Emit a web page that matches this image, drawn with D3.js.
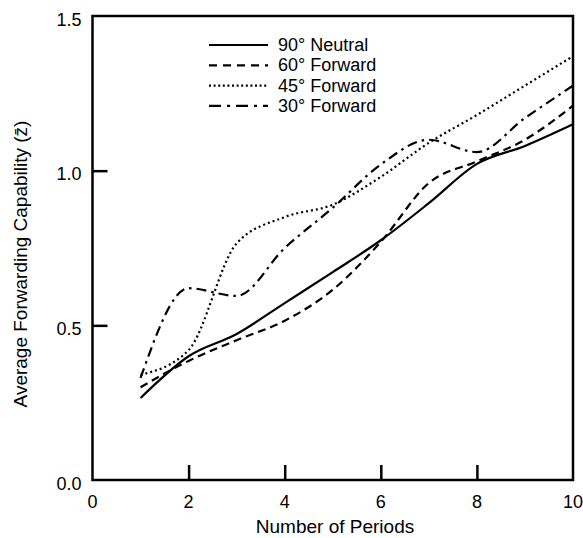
<!DOCTYPE html>
<html>
<head>
<meta charset="utf-8">
<script src="https://cdn.jsdelivr.net/npm/d3@7"></script>
<style>
  body { margin: 0; background: #fff; }
  text { font-family: "Liberation Sans", Arial, Helvetica, sans-serif; fill: #000; }
</style>
</head>
<body>
<svg id="chart" width="583" height="538"></svg>
<script>
// values
var periods = [1, 2, 3, 4, 5, 6, 7, 8, 9, 10]
var neutral90 = [0.265, 0.40, 0.472, 0.572, 0.672, 0.775, 0.895, 1.022, 1.08, 1.15]
var forward60 = [0.30, 0.385, 0.452, 0.515, 0.615, 0.77, 0.96, 1.03, 1.10, 1.21]
var forward45 = [0.34, 0.42, 0.765, 0.85, 0.89, 0.98, 1.09, 1.18, 1.275, 1.37]
var forward30 = [0.33, 0.62, 0.595, 0.75, 0.88, 1.02, 1.10, 1.06, 1.17, 1.275]
var seriesNames = ["90\u00b0 Neutral", "60\u00b0 Forward", "45\u00b0 Forward", "30\u00b0 Forward"]
var xTicks = [0, 2, 4, 6, 8, 10]
var yTicks = [0, 0.5, 1.0, 1.5]

var dashes = ["none", "8,5", "2,3", "10,5,2.5,5"]
var legendDashes = ["none", "8,6", "2,2.6", "12,6,3,6"]
var allSeries = [neutral90, forward60, forward45, forward30]

var svg = d3.select("#chart"),
    margin = { top: 16, right: 10, bottom: 58, left: 92.5 },
    width = 583 - margin.left - margin.right,
    height = 538 - margin.top - margin.bottom;

var x = d3.scaleLinear().domain([0, 10]).range([0, width])
var y = d3.scaleLinear().domain([0, 1.5]).range([height, 0])

var g = svg.append("g")
    .attr("transform", "translate(" + margin.left + "," + margin.top + ")")

// inward ticks, no labels on the axis itself
g.append("g")
    .attr("transform", "translate(0," + height + ")")
    .call(d3.axisBottom(x).tickValues(xTicks.filter(d => d > 0 && d < 10)).tickSize(-15).tickFormat(""))
    .call(a => a.select(".domain").remove())
    .selectAll("line").attr("stroke-width", 2.5)

g.append("g")
    .call(d3.axisLeft(y).tickValues(yTicks.filter(d => d > 0 && d < 1.5)).tickSize(-15).tickFormat(""))
    .call(a => a.select(".domain").remove())
    .selectAll("line").attr("stroke-width", 2.5)

// frame
g.append("rect")
    .attr("width", width)
    .attr("height", height)
    .attr("fill", "none")
    .attr("stroke", "#000")
    .attr("stroke-width", 2.5)

// tick labels
g.selectAll(".xlab")
  .data(xTicks)
  .enter().append("text")
    .attr("x", d => x(d))
    .attr("y", height + 28)
    .attr("text-anchor", "middle")
    .attr("font-size", 18)
    .text(d => d)

g.selectAll(".ylab")
  .data(yTicks)
  .enter().append("text")
    .attr("x", -11)
    .attr("y", d => y(d) + 9.5)
    .attr("text-anchor", "end")
    .attr("font-size", 18)
    .text(d => d.toFixed(1))

// axis titles
svg.append("text")
    .attr("x", 335)
    .attr("y", 533)
    .attr("text-anchor", "middle")
    .attr("font-size", 19)
    .text("Number of Periods")

svg.append("text")
    .attr("transform", "translate(27,264) rotate(-90)")
    .attr("text-anchor", "middle")
    .attr("font-size", 19)
    .text("Average Forwarding Capability (z\u0304)")

// curves
var line = d3.line()
    .x((d, i) => x(periods[i]))
    .y(d => y(d))
    .curve(d3.curveMonotoneX)

g.selectAll(".series")
  .data(allSeries)
  .enter().append("path")
    .attr("fill", "none")
    .attr("stroke", "#000")
    .attr("stroke-width", 2.2)
    .attr("stroke-dasharray", (d, i) => dashes[i])
    .attr("d", line)

// legend
var legend = svg.append("g").attr("transform", "translate(209,45)")
var rows = legend.selectAll("g")
  .data(seriesNames)
  .enter().append("g")
    .attr("transform", (d, i) => "translate(0," + i * 20.3 + ")")

rows.append("line")
    .attr("x1", 0).attr("x2", 59)
    .attr("stroke", "#000")
    .attr("stroke-width", 2.2)
    .attr("stroke-dasharray", (d, i) => legendDashes[i])

rows.append("text")
    .attr("x", 69)
    .attr("y", 6)
    .attr("font-size", 18)
    .text(d => d)
</script>
</body>
</html>
